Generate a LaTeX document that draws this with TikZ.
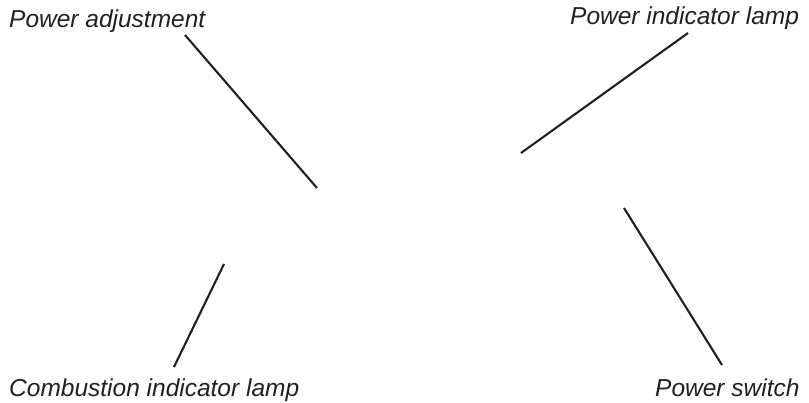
\documentclass[tikz,border=0pt]{standalone}
\usepackage{fontspec}
\setmainfont{Liberation Sans}
\definecolor{txt}{HTML}{231F20}
\begin{document}
\begin{tikzpicture}[x=1pt,y=-1pt,
  lbl/.style={anchor=base west,inner sep=0pt,text=txt,font=\fontsize{24.5}{28}\selectfont\itshape},
  leader/.style={line width=2.1pt,draw=txt}]
\useasboundingbox (0,0) rectangle (809,403);
\node[lbl] (pa) at (9,28) {Power adjustment};
\node[lbl] (pil) at (570,25) {Power indicator lamp};
\node[lbl] (cil) at (9,396) {Combustion indicator lamp};
\node[lbl] (ps) at (655,396) {Power switch};
\coordinate (pa1) at (185,35);
\coordinate (pa2) at (317,188);
\coordinate (pil1) at (688,33);
\coordinate (pil2) at (521,153);
\coordinate (cil1) at (224,264);
\coordinate (cil2) at (174,367);
\coordinate (ps1) at (624,208);
\coordinate (ps2) at (722,365);
\draw[leader] (pa1) -- (pa2);
\draw[leader] (pil1) -- (pil2);
\draw[leader] (cil1) -- (cil2);
\draw[leader] (ps1) -- (ps2);
\end{tikzpicture}
\end{document}
